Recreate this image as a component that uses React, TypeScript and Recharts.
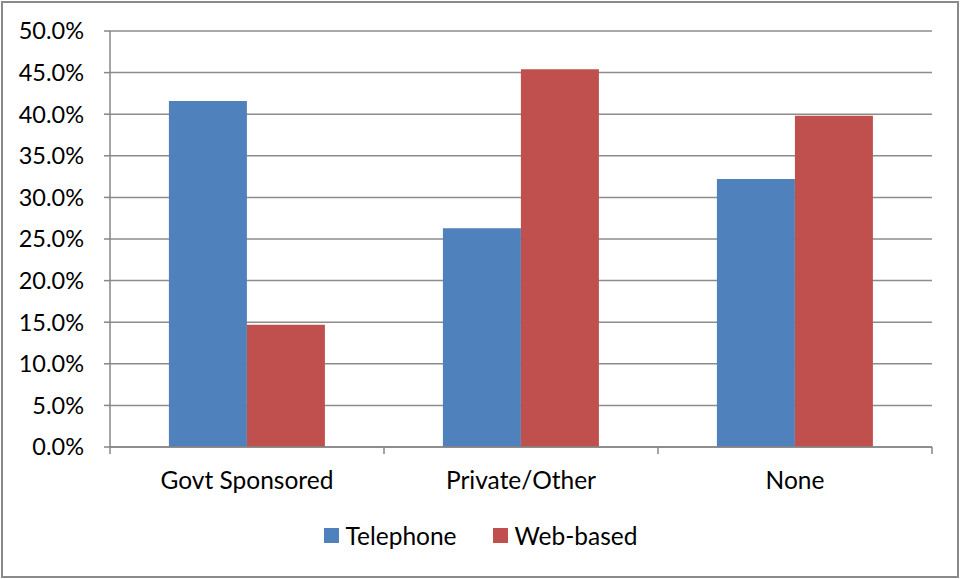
import React from 'react';
import { BarChart, Bar, XAxis, YAxis, CartesianGrid, Legend } from 'recharts';

const categories = ['Govt Sponsored', 'Private/Other', 'None'];
const telephone = [0.416, 0.263, 0.322];
const webBased = [0.147, 0.454, 0.398];
const seriesNames = ['Telephone', 'Web-based'];
const seriesColors = ['#4F81BD', '#C0504D'];
const yTicks = [0, 0.05, 0.1, 0.15, 0.2, 0.25, 0.3, 0.35, 0.4, 0.45, 0.5];

const data = categories.map((c, i) => ({
  name: c,
  Telephone: telephone[i],
  'Web-based': webBased[i],
}));

const FONT = 'Lato, "Open Sans", sans-serif';

const CategoryTick = (props: any) => {
  const { x, y, payload, index, visibleTicksCount } = props;
  const off = payload.offset || 0;
  const axisY = 447;
  return (
    <g>
      <line x1={x - off} x2={x - off} y1={axisY} y2={axisY + 7} stroke="#868686" strokeWidth={1.5} />
      {index === (visibleTicksCount ?? categories.length) - 1 && (
        <line x1={x + off} x2={x + off} y1={axisY} y2={axisY + 7} stroke="#868686" strokeWidth={1.5} />
      )}
      <text x={x} y={y} dy="0.71em" textAnchor="middle" fill="#000" fontSize={24.5} fontFamily={FONT}>
        {payload.value}
      </text>
    </g>
  );
};

const LegendContent = () => (
  <div style={{ display: 'flex', justifyContent: 'center', alignItems: 'center', fontFamily: FONT, fontSize: 24.5, color: '#000' }}>
    {seriesNames.map((n, i) => (
      <div key={n} style={{ display: 'flex', alignItems: 'center', marginLeft: i === 0 ? 0 : 36 }}>
        <span style={{ display: 'inline-block', width: 15, height: 15, background: seriesColors[i], marginRight: 7 }} />
        <span>{n}</span>
      </div>
    ))}
  </div>
);

export default function App() {
  return (
    <div style={{ position: 'absolute', left: 0, top: 0, width: 961, height: 579, background: '#fff' }}>
      <div
        style={{
          position: 'absolute',
          left: 1,
          top: 1,
          width: 958,
          height: 577,
          border: '2px solid #8a8a8a',
          boxSizing: 'border-box',
        }}
      />
      <div style={{ position: 'absolute', left: 0, top: 0 }}>
        <BarChart
          width={961}
          height={579}
          data={data}
          margin={{ top: 31, right: 29, left: 0, bottom: 0 }}
          barCategoryGap="21.5%"
          barGap={0}
        >
          <CartesianGrid vertical={false} stroke="#8c8c8c" strokeWidth={1.5} />
          <XAxis
            dataKey="name"
            height={132}
            axisLine={{ stroke: '#868686', strokeWidth: 1.5 }}
            tickLine={false}
            tickSize={6}
            tickMargin={19}
            tick={<CategoryTick />}
            interval={0}
          />
          <YAxis
            width={110}
            domain={[0, 0.5]}
            ticks={yTicks}
            interval={0}
            tickFormatter={(v: number) => (v * 100).toFixed(1) + '%'}
            axisLine={{ stroke: '#868686', strokeWidth: 1.5 }}
            tickLine={{ stroke: '#868686', strokeWidth: 1.5 }}
            tickSize={6}
            tickMargin={20}
            tick={{ fill: '#000', fontSize: 23.5, fontFamily: FONT }}
          />
          <Legend
            layout="horizontal"
            verticalAlign="middle"
            align="center"
            content={<LegendContent />}
            wrapperStyle={{ position: 'absolute', top: 521, left: 0, width: 961 }}
          />
          {seriesNames.map((n, i) => (
            <Bar key={n} dataKey={n} fill={seriesColors[i]} isAnimationActive={false} />
          ))}
        </BarChart>
      </div>
    </div>
  );
}
